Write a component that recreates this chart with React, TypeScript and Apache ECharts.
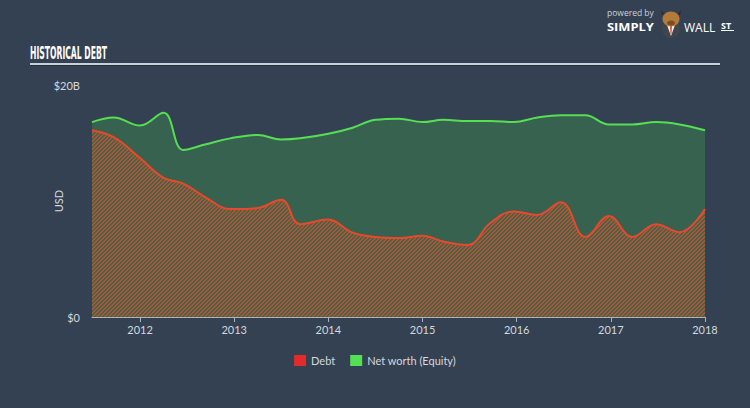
import React, { useEffect, useRef } from 'react';
import * as echarts from 'echarts';

// decimal years of the observations
const dates = [
  2011.49, 2011.72, 2012.0, 2012.25, 2012.46, 2012.7, 2012.96, 2013.25, 2013.5, 2013.7,
  2014.0, 2014.25, 2014.5, 2014.75, 2015.0, 2015.22, 2015.48, 2015.72, 2015.97, 2016.22,
  2016.47, 2016.73, 2016.98, 2017.23, 2017.48, 2017.73, 2018.0,
];
// values in USD billions
const debtValues = [
  16.1, 15.5, 13.7, 12.0, 11.5, 10.3, 9.3, 9.4, 10.1, 8.0,
  8.4, 7.3, 6.9, 6.8, 7.0, 6.5, 6.2, 8.1, 9.1, 8.8,
  9.9, 6.9, 8.7, 6.9, 8.0, 7.3, 9.3,
];
const equityValues = [
  16.8, 17.2, 16.5, 17.6, 14.4, 14.9, 15.4, 15.7, 15.3, 15.4,
  15.8, 16.3, 17.0, 17.1, 16.8, 17.0, 16.9, 16.9, 16.8, 17.2,
  17.4, 17.4, 16.6, 16.6, 16.8, 16.6, 16.1,
];
const xTickValues = [2012, 2013, 2014, 2015, 2016, 2017, 2018];
const yTickValues = [0, 20];
const yTickLabels = ['$0', '$20B'];
const seriesNames = ['Debt', 'Net worth (Equity)'];
const titleText = 'HISTORICAL DEBT';

function makeHatch(): any {
  const size = 4;
  const c = document.createElement('canvas');
  c.width = size;
  c.height = size;
  const ctx = c.getContext('2d');
  if (!ctx) return '#7a5a40';
  ctx.fillStyle = '#3e6550';
  ctx.fillRect(0, 0, size, size);
  ctx.fillStyle = '#b4532f';
  for (let x = 0; x < size; x++) {
    for (let y = 0; y < size; y++) {
      if ((x + y) % 4 < 2) ctx.fillRect(x, y, 1, 1);
    }
  }
  return { image: c.toDataURL('image/png'), repeat: 'repeat', imageWidth: size, imageHeight: size };
}

function fitScale(text: string, font: string, target: number, fallback: number): number {
  try {
    const ctx = document.createElement('canvas').getContext('2d');
    if (ctx) {
      ctx.font = font;
      const w = ctx.measureText(text).width;
      if (w > 0) return target / w;
    }
  } catch (e) {}
  return fallback;
}

export default function App() {
  const ref = useRef<HTMLDivElement>(null);
  useEffect(() => {
    document.body.style.margin = '0';
    const chart = echarts.init(ref.current as HTMLDivElement, null, { renderer: 'svg' });

    const titleFont = 'bold 17px "DejaVu Sans Condensed"';
    const titleScale = fitScale(titleText, titleFont, 77, 0.55);
    const simplyFont = 'bold 11px "Open Sans"';
    const simplyScale = fitScale('SIMPLY', simplyFont, 47, 1.1);

    const font = 'Lato';
    const labelColor = '#d3d8de';
    const axisColor = '#aab3bd';

    const option: any = {
      animation: false,
      backgroundColor: '#344152',
      grid: { left: 92, right: 45, top: 85, bottom: 91 },
      legend: {
        data: [
          { name: seriesNames[0], itemStyle: { color: '#e42b2b' } },
          { name: seriesNames[1], itemStyle: { color: '#54e054' } },
        ],
        top: 350,
        left: 'center',
        icon: 'rect',
        itemWidth: 12,
        itemHeight: 11,
        itemGap: 15,
        textStyle: { color: labelColor, fontSize: 11, fontFamily: font },
      },
      xAxis: {
        type: 'value',
        min: 2011.49,
        max: 2018,
        splitLine: { show: false },
        axisLine: { show: true, lineStyle: { color: axisColor, width: 1 } },
        axisTick: { show: true, customValues: xTickValues, length: 5, lineStyle: { color: axisColor } },
        axisLabel: {
          customValues: xTickValues,
          formatter: (v: number) => String(Math.round(v)),
          color: labelColor,
          fontSize: 11,
          fontFamily: font,
          margin: 7,
        },
      },
      yAxis: {
        type: 'value',
        min: 0,
        max: 20,
        interval: 20,
        name: 'USD',
        nameLocation: 'middle',
        nameGap: 28,
        nameMoveOverlap: false,
        nameRotate: 90,
        nameTextStyle: { color: labelColor, fontSize: 11, fontFamily: font },
        splitLine: { show: false },
        axisLine: { show: false },
        axisTick: { show: false },
        axisLabel: {
          formatter: (v: number) => yTickLabels[yTickValues.indexOf(v)] ?? '',
          color: labelColor,
          fontSize: 11,
          fontFamily: font,
          margin: 12,
        },
      },
      series: [
        {
          name: seriesNames[0],
          type: 'line',
          z: 4,
          smooth: 0.4,
          showSymbol: false,
          data: dates.map((d, i) => [d, debtValues[i]]),
          itemStyle: { color: '#e64a2a' },
          lineStyle: { color: '#e8492a', width: 2 },
          areaStyle: { color: makeHatch(), opacity: 1 },
        },
        {
          name: seriesNames[1],
          type: 'line',
          z: 3,
          smooth: 0.4,
          showSymbol: false,
          data: dates.map((d, i) => [d, equityValues[i]]),
          itemStyle: { color: '#54e054' },
          lineStyle: { color: '#55e052', width: 2 },
          areaStyle: { color: '#37624f', opacity: 1 },
        },
      ],
      graphic: [
        {
          type: 'text',
          x: 30,
          y: 53,
          scaleX: titleScale,
          style: {
            text: titleText,
            fill: '#ffffff',
            font: titleFont,
            verticalAlign: 'middle',
            align: 'left',
          },
        },
        {
          type: 'line',
          shape: { x1: 30, y1: 64, x2: 720, y2: 64 },
          style: { stroke: '#c9d0d8', lineWidth: 2 },
        },
        {
          type: 'line',
          shape: { x1: 30, y1: 65.5, x2: 720, y2: 65.5 },
          style: { stroke: '#263140', lineWidth: 1 },
        },
        {
          type: 'text',
          x: 607,
          y: 12.5,
          style: { text: 'powered by', fill: '#cdd3da', font: '8.5px "Open Sans"', verticalAlign: 'middle' },
        },
        {
          type: 'text',
          x: 607,
          y: 27,
          scaleX: simplyScale,
          style: { text: 'SIMPLY', fill: '#ffffff', font: simplyFont, verticalAlign: 'middle' },
        },
        {
          type: 'circle',
          shape: { cx: 671, cy: 29, r: 9 },
          style: { fill: '#41464c' },
        },
        {
          type: 'polygon',
          shape: { points: [[667, 25], [675, 25], [671, 36]] },
          style: { fill: '#f2f2f2' },
        },
        {
          type: 'polygon',
          shape: { points: [[670, 26], [672, 26], [671.5, 34], [670.5, 34]] },
          style: { fill: '#e0502a' },
        },
        {
          type: 'polygon',
          shape: { points: [[661, 10], [664, 14], [662, 15]] },
          style: { fill: '#2a2a2a' },
        },
        {
          type: 'polygon',
          shape: { points: [[681, 10], [678, 14], [680, 15]] },
          style: { fill: '#2a2a2a' },
        },
        {
          type: 'ellipse',
          shape: { cx: 671, cy: 19, rx: 8.5, ry: 7.5 },
          style: { fill: '#b27b3c' },
        },
        {
          type: 'ellipse',
          shape: { cx: 671, cy: 23, rx: 4, ry: 2.5 },
          style: { fill: '#7a4e22' },
        },
        {
          type: 'text',
          x: 684,
          y: 27,
          style: { text: 'WALL', fill: '#ffffff', font: '12px "Open Sans"', verticalAlign: 'middle' },
        },
        {
          type: 'text',
          x: 721,
          y: 25,
          style: { text: 'ST', fill: '#ffffff', font: 'bold 9px "Open Sans"', verticalAlign: 'middle' },
        },
        {
          type: 'line',
          shape: { x1: 721, y1: 30.5, x2: 734, y2: 30.5 },
          style: { stroke: '#ffffff', lineWidth: 1 },
        },
      ],
    };
    chart.setOption(option);
    return () => chart.dispose();
  }, []);
  return <div ref={ref} style={{ position: 'fixed', left: 0, top: 0, width: 750, height: 408 }} />;
}
